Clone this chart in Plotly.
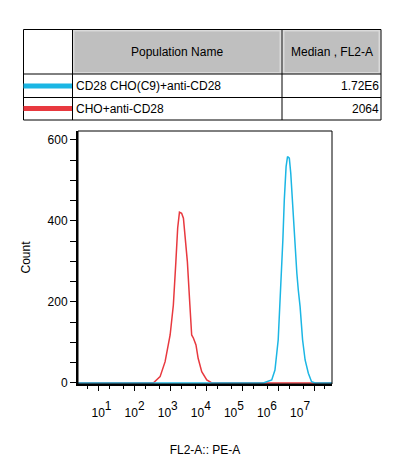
import plotly.graph_objects as go

# ---------------- data ----------------
populations = ["CD28 CHO(C9)+anti-CD28", "CHO+anti-CD28"]
medians = ["1.72E6", "2064"]
table_headers = ["Population Name", "Median , FL2-A"]

red_x = [2.6, 331, 513, 708, 977, 1202, 1413, 1585, 1778, 2042, 2291, 2512, 2951, 3467,
         3890, 4365, 5129, 5888, 7413, 10233, 14125, 3.2e7]
red_count = [0, 0, 15.6, 52.6, 118.5, 192.6, 299.5, 382.7, 421.5, 419, 406.7, 365.4, 299.5,
             192.6, 118.5, 110.4, 93.8, 61, 28, 7.4, 0, 0]

cyan_x = [2.6, 384600, 660700, 812800, 1.0e6, 1.175e6, 1.349e6, 1.479e6, 1.660e6, 1.820e6,
          2.042e6, 2.239e6, 2.512e6, 2.818e6, 3.311e6, 3.631e6, 4.074e6, 4.786e6, 5.623e6,
          6.918e6, 8.511e6, 1.072e7, 3.2e7]
cyan_count = [0, 0, 7.4, 32, 106, 229.6, 353, 451.9, 534, 558.8, 554.8, 517.8, 435.3, 353,
              270.9, 229.6, 188.4, 106, 56.8, 24, 3.2, 0, 0]

decade_exps = [1, 2, 3, 4, 5, 6, 7]
decade_labels = ["<span style='font-size:12px'>10</span><sup>%d</sup>" % e for e in decade_exps]
y_ticks = [0, 200, 400, 600]

RED = "#E8393F"
CYAN = "#1BB6E4"
FONT = "Liberation Sans, Arial, sans-serif"

# the page body adds an 8px margin, so the figure is drawn 8px smaller and
# every reference pixel position is shifted by OFF
OFF = 8
W, H = 396 - 2 * OFF, 465 - 2 * OFF
L, R, T, B = 78 - OFF, 332 - OFF, 131 - OFF, 384 - OFF


def px(x):
    return (x - OFF - L) / (R - L)


def py(y):
    return (B - (y - OFF)) / (B - T)


fig = go.Figure()
fig.add_trace(go.Scatter(x=red_x, y=red_count, mode="lines",
                         line=dict(color=RED, width=1.5), hoverinfo="skip"))
fig.add_trace(go.Scatter(x=cyan_x, y=cyan_count, mode="lines",
                         line=dict(color=CYAN, width=1.5), hoverinfo="skip"))
# invisible trace carrying the decade label axis
fig.add_trace(go.Scatter(x=decade_exps, y=[0] * len(decade_exps), xaxis="x2",
                         mode="markers", marker=dict(opacity=0), hoverinfo="skip"))

shapes = []
annotations = []

# table
shapes.append(dict(type="rect", xref="paper", yref="paper", x0=px(73.5), x1=px(280.5),
                   y0=py(30.5), y1=py(73), fillcolor="#BFBFBF",
                   line=dict(color="#DADADA", width=2)))
shapes.append(dict(type="rect", xref="paper", yref="paper", x0=px(283.5), x1=px(379.5),
                   y0=py(30.5), y1=py(73), fillcolor="#BFBFBF",
                   line=dict(color="#DADADA", width=2)))
shapes.append(dict(type="rect", xref="paper", yref="paper", x0=px(23.5), x1=px(381),
                   y0=py(29.5), y1=py(120), line=dict(color="black", width=1)))
for xv in (72.5, 282):
    shapes.append(dict(type="line", xref="paper", yref="paper", x0=px(xv), x1=px(xv),
                       y0=py(29.5), y1=py(120), line=dict(color="black", width=1)))
for yv in (74, 97.5):
    shapes.append(dict(type="line", xref="paper", yref="paper", x0=px(23.5), x1=px(381),
                       y0=py(yv), y1=py(yv), line=dict(color="black", width=1)))
for yv, col in ((86, CYAN), (108.5, RED)):
    shapes.append(dict(type="line", xref="paper", yref="paper", x0=px(23.5), x1=px(72),
                       y0=py(yv), y1=py(yv), line=dict(color=col, width=5)))

TF = 12
annotations.append(dict(xref="paper", yref="paper", x=px(177), y=py(52), text=table_headers[0],
                        showarrow=False, xanchor="center", yanchor="middle",
                        font=dict(family=FONT, size=TF, color="black")))
annotations.append(dict(xref="paper", yref="paper", x=px(331.5), y=py(52), text=table_headers[1],
                        showarrow=False, xanchor="center", yanchor="middle",
                        font=dict(family=FONT, size=TF, color="black")))
for i, (name, med) in enumerate(zip(populations, medians)):
    yy = 86 + i * 22.7
    annotations.append(dict(xref="paper", yref="paper", x=px(74), y=py(yy), text=name,
                            showarrow=False, xanchor="left", yanchor="middle",
                            font=dict(family=FONT, size=TF, color="black")))
    annotations.append(dict(xref="paper", yref="paper", x=px(380.5), y=py(yy), text=med,
                            showarrow=False, xanchor="right", yanchor="middle",
                            font=dict(family=FONT, size=TF, color="black")))

# plot frame
shapes.append(dict(type="rect", xref="paper", yref="paper", x0=0, x1=1, y0=0, y1=1,
                   line=dict(color="black", width=1)))

fig.update_layout(
    width=W, height=H,
    margin=dict(l=L, r=W - R, t=T, b=H - B, pad=0),
    paper_bgcolor="white", plot_bgcolor="white",
    showlegend=False,
    font=dict(family=FONT, size=12, color="black"),
    shapes=shapes, annotations=annotations,
    xaxis=dict(type="log", range=[0.4234, 7.499], tickvals=[10 ** e for e in decade_exps],
               showticklabels=False, ticks="outside", ticklen=5, tickwidth=1,
               tickcolor="black", showline=True, linecolor="black", linewidth=2,
               showgrid=False, zeroline=False, automargin=False,
               minor=dict(ticks="outside", ticklen=3, tickwidth=1, tickcolor="black",
                          showgrid=False)),
    xaxis2=dict(overlaying="x", anchor="y", side="bottom", range=[0.29, 7.964],
                tickvals=decade_exps, ticktext=decade_labels, ticks="", showline=False,
                showgrid=False, zeroline=False, ticklabelstandoff=15, automargin=False,
                tickfont=dict(size=17),
                title=dict(text="FL2-A:: PE-A", font=dict(size=12), standoff=26)),
    yaxis=dict(range=[-2.5, 622], tickvals=y_ticks, ticks="outside", ticklen=6,
               tickwidth=1, tickcolor="black", showline=True, linecolor="black",
               linewidth=2, showgrid=False, zeroline=False, automargin=False,
               minor=dict(dtick=50, ticks="outside", ticklen=6, tickwidth=1,
                          tickcolor="black", showgrid=False),
               tickfont=dict(size=12),
               title=dict(text="Count", font=dict(size=12), standoff=14)),
)

fig.write_html("out.html")
